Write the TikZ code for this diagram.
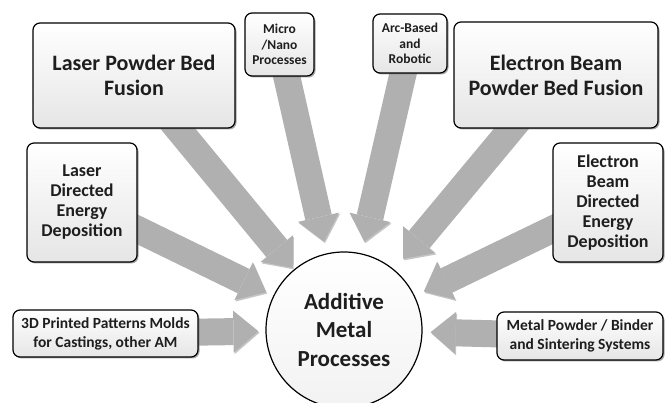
\documentclass[tikz,border=0pt]{standalone}
\usepackage{fontspec}
\setmainfont{Carlito}
\usetikzlibrary{arrows.meta,shadows,backgrounds,positioning}
\definecolor{arrowgray}{RGB}{176,176,176}
\definecolor{textgray}{RGB}{30,30,30}
\tikzset{
block/.style={
  rectangle,
  draw,
  line width=1.2pt,
  rounded corners=7pt,
  top color=white,
  bottom color=black!10,
  drop shadow={shadow xshift=1.5pt, shadow yshift=-1.5pt, opacity=.7},
  align=center,
  inner sep=2pt,
  text=textgray},
hub/.style={
  circle,
  draw,
  line width=1.2pt,
  top color=white,
  bottom color=black!5,
  minimum size=156pt,
  align=center,
  text=textgray,
  font=\bfseries\fontsize{23}{29}\selectfont},
line/.style={
  draw=arrowgray,
  line width=27pt,
  -{Triangle[width=42pt,length=25pt,line width=0pt]},
  preaction={draw=black!45, opacity=.5, transform canvas={xshift=1pt,yshift=-1.5pt}},
  shorten <=-14pt,
  shorten >=8pt}
}
\begin{document}
\begin{tikzpicture}[x=1pt,y=-1pt]
    \useasboundingbox (0,0) rectangle (665,403);
    \clip (0,0) rectangle (665,403);
    \node [hub] (amp) at (344,330) {Additive\\Metal\\Processes};
    \node [block, minimum width=202pt, minimum height=105pt, %
      font=\bfseries\fontsize{22}{25}\selectfont] (lpbf) at (134,75.5) {Laser Powder Bed\\Fusion};
    \node [block, minimum width=69pt, minimum height=63pt, %
      font=\bfseries\fontsize{13.5}{15.5}\selectfont] (micro) at (279.5,44.5) {Micro\\/Nano\\Processes};
    \node [block, minimum width=74pt, minimum height=59pt, %
      font=\bfseries\fontsize{13.5}{15.5}\selectfont] (arc) at (410,43.5) {Arc-Based\\and\\Robotic};
    \node [block, minimum width=204pt, minimum height=106pt, %
      font=\bfseries\fontsize{22}{25}\selectfont] (ebpbf) at (556,75) {Electron Beam\\Powder Bed Fusion};
    \node [block, minimum width=110pt, minimum height=119pt, %
      font=\bfseries\fontsize{18}{20}\selectfont] (lded) at (82,202.5) {Laser\\Directed\\Energy\\Deposition};
    \node [block, minimum width=110pt, minimum height=119pt, %
      font=\bfseries\fontsize{18}{20}\selectfont] (ebded) at (608,202.5) {Electron\\Beam\\Directed\\Energy\\Deposition};
    \node [block, minimum width=185pt, minimum height=47pt, %
      font=\bfseries\fontsize{15.5}{19}\selectfont] (molds) at (105.5,333.5) {3D Printed Patterns Molds\\for Castings, other AM};
    \node [block, minimum width=166pt, minimum height=48pt, %
      font=\bfseries\fontsize{15.5}{19}\selectfont] (binder) at (580,336) {Metal Powder / Binder\\and Sintering Systems};
    \begin{scope}[on background layer]
      \path [line, shorten >=2pt] (lpbf) -- (amp);
      \path [line, shorten >=12pt] (micro) -- (amp);
      \path [line, shorten >=12pt] (arc) -- (amp);
      \path [line, shorten >=14pt] (ebpbf) -- (amp);
      \path [line, shorten >=8pt] (lded) -- (amp);
      \path [line, shorten >=10pt] (ebded) -- (amp);
      \path [line, shorten >=7pt] (molds) -- (amp);
      \path [line, shorten >=8pt] (binder) -- (amp);
    \end{scope}
\end{tikzpicture}
\end{document}
